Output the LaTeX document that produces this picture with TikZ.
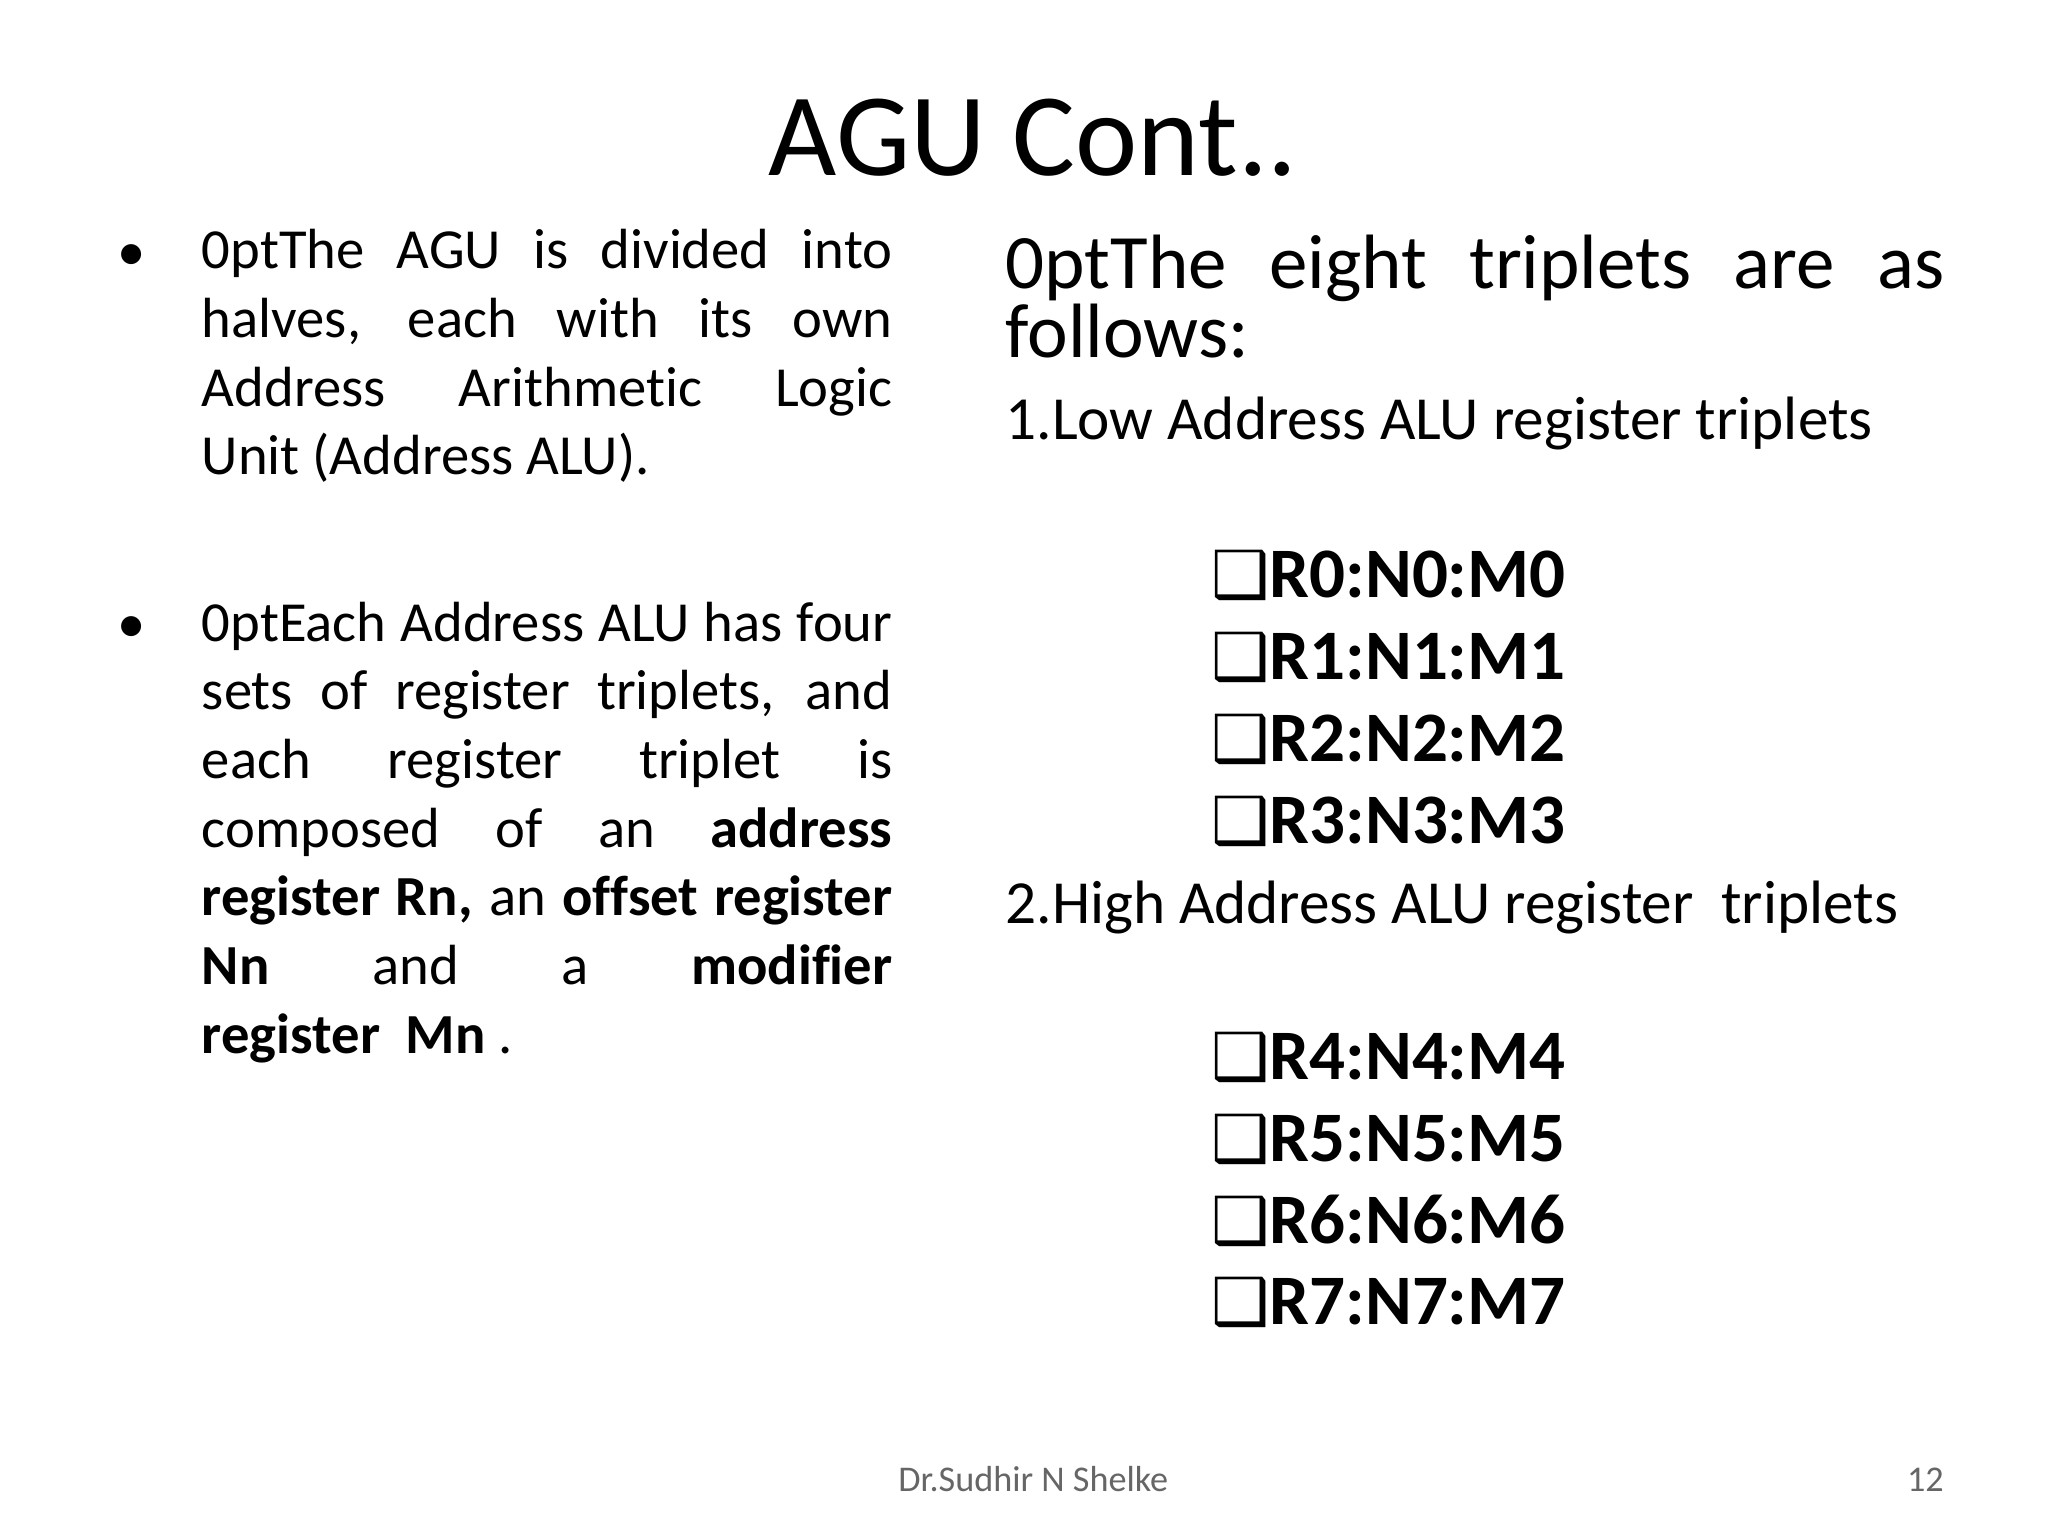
\documentclass[tikz,border=0pt]{standalone}
\usepackage{fontspec}
\setmainfont[Ligatures={NoCommon}]{Carlito}
\newfontfamily\symf{DejaVu Sans}
\begin{document}
\begin{tikzpicture}[x=0.01cm,y=-0.01cm,
  every node/.style={inner sep=0pt,outer sep=0pt},
  lefttxt/.style={anchor=north west,text width=5.23cm,align=justify,font=\fontsize{12.2}{14.8}\selectfont\hyphenpenalty=10000},
  item/.style={anchor=base west,font=\fontsize{15.3}{18}\selectfont\bfseries}]
\fill[white] (0,0) rectangle (1552,1164);
\node[anchor=base,font=\fontsize{25.4}{30}\selectfont] (title) at (783,133) {AGU Cont..};
\node[anchor=base,font=\fontsize{12.2}{14}\selectfont] (b1) at (100,205) {•};
\node[anchor=base,font=\fontsize{12.2}{14}\selectfont] (b2) at (100,487) {•};
\node[lefttxt] (p1) at (153,174) {The AGU is divided into\linebreak halves, each with its own\linebreak Address Arithmetic Logic\linebreak Unit (Address ALU).};
\node[lefttxt] (p2) at (153,456) {Each Address ALU has four\linebreak sets of register triplets, and\linebreak each register triplet is\linebreak composed of an \textbf{address}\linebreak \textbf{register Rn,} an \textbf{offset register}\linebreak \textbf{Nn} and a \textbf{modifier}\linebreak \textbf{register\ \ Mn} .};
\node[anchor=north west,text width=7.11cm,align=justify,font=\fontsize{16.6}{15}\selectfont\hyphenpenalty=10000] (rt) at (762,178) {The eight triplets are as\linebreak follows:};
\node[anchor=base west,font=\fontsize{13.2}{16}\selectfont] (low) at (762,333) {1.Low Address ALU register triplets};
\node[anchor=base west,font=\fontsize{13.2}{16}\selectfont] (high) at (762,700) {2.High Address ALU register\ \ triplets};
\foreach \i/\y in {0/453,1/515,2/577,3/639,4/818,5/880,6/942,7/1004}{
  \node[item] (r\i) at (918,\y) {{\symf\fontsize{14}{16}\selectfont ❑}R\i:N\i:M\i};
}
\node[anchor=base,font=\fontsize{7.8}{10}\selectfont,text=black!60] (foot) at (783,1130) {Dr.Sudhir N Shelke};
\node[anchor=base east,font=\fontsize{7.8}{10}\selectfont,text=black!60] (num) at (1473,1130) {12};
\end{tikzpicture}
\end{document}
